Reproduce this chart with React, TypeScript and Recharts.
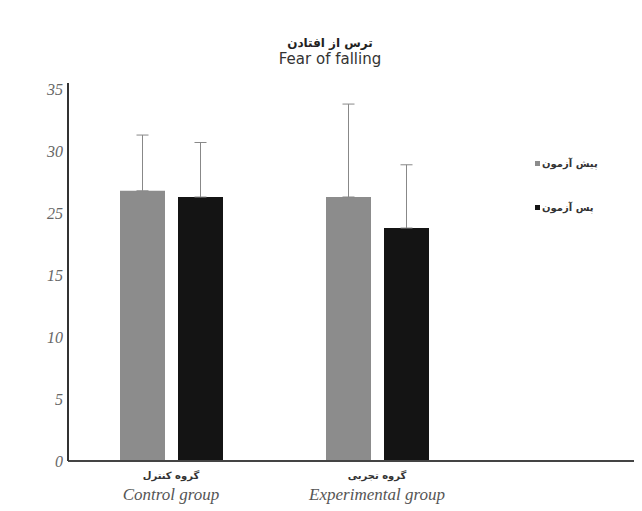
import React from 'react';
import { BarChart, Bar, XAxis, YAxis, ErrorBar, Legend } from 'recharts';

// Groups on the x axis
const groups = ['Control group', 'Experimental group'];
const groupsFa = ['گروه کنترل', 'گروه تجربی'];

// Mean scores and upper error (SD) for each test
const preTest = [21.8, 21.3];
const postTest = [21.3, 18.8];
const preErr = [4.5, 7.5];
const postErr = [4.4, 5.1];

// Y axis ticks and the labels printed next to them
const yTicks = [0, 5, 10, 15, 20, 25, 30];
const yTickLabels = ['0', '5', '10', '15', '25', '30', '35'];

const seriesNames = ['پیش آزمون', 'پس آزمون'];
const seriesColors = ['#8c8c8c', '#141414'];

const data = groups.map((g, i) => ({
	group: g,
	pre: preTest[i],
	post: postTest[i],
	preErr: [0, preErr[i]],
	postErr: [0, postErr[i]],
}));

const GroupTick = (props: any) => {
	const { x, y, payload, index } = props;
	return (
		<g>
			<text
				x={x}
				y={y}
				dy={10}
				textAnchor='middle'
				fontFamily='DejaVu Sans'
				fontWeight='bold'
				fontSize={10}
				fill='#333'>
				{groupsFa[index]}
			</text>
			<text
				x={x}
				y={y}
				dy={31}
				textAnchor='middle'
				fontFamily='Liberation Serif'
				fontStyle='italic'
				fontSize={17}
				fill='#555'>
				{payload.value}
			</text>
		</g>
	);
};

const LegendContent = () => (
	<div style={{ fontFamily: 'DejaVu Sans', fontSize: 10, fontWeight: 'bold', color: '#333' }}>
		{seriesNames.map((name, i) => (
			<div
				key={name}
				style={{ display: 'flex', alignItems: 'center', height: 16, marginBottom: i === 0 ? 28 : 0 }}>
				<span
					style={{
						width: 5,
						height: 5,
						background: seriesColors[i],
						marginRight: 2,
						display: 'inline-block',
					}}
				/>
				<span dir='rtl'>{name}</span>
			</div>
		))}
	</div>
);

const App = () => {
	return (
		<div style={{ position: 'relative', width: 634, height: 503 }}>
			<div
				style={{
					position: 'absolute',
					left: 0,
					width: 644,
					top: 27,
					textAlign: 'center',
					lineHeight: '16px',
				}}>
				<div dir='rtl' style={{ fontFamily: 'DejaVu Sans', fontWeight: 'bold', fontSize: 12, color: '#222' }}>
					ترس از افتادن
				</div>
				<div style={{ fontFamily: 'DejaVu Sans', fontSize: 15, color: '#333' }}>Fear of falling</div>
			</div>
			<BarChart
				width={634}
				height={503}
				data={data}
				margin={{ top: 75, right: 0, bottom: 0, left: 0 }}
				barSize={45}
				barGap={13}>
				<XAxis
					dataKey='group'
					height={50}
					padding={{ left: 0, right: 162 }}
					axisLine={{ stroke: '#444', strokeWidth: 2 }}
					tickLine={false}
					tick={<GroupTick />}
					interval={0}
				/>
				<YAxis
					width={60}
					domain={[0, 30.5]}
					ticks={yTicks}
					tickFormatter={(v: number) => yTickLabels[yTicks.indexOf(v)]}
					axisLine={{ stroke: '#333', strokeWidth: 2 }}
					tickLine={false}
					tickSize={0}
					tickMargin={5}
					tick={{ fontFamily: 'Liberation Serif', fontStyle: 'italic', fontSize: 16, fill: '#666' }}
				/>
				<Legend
					layout='vertical'
					align='center'
					verticalAlign='middle'
					content={<LegendContent />}
					wrapperStyle={{ top: 147, left: 527, width: 100 }}
				/>
				<Bar dataKey='pre' name={seriesNames[0]} fill={seriesColors[0]} isAnimationActive={false}>
					<ErrorBar dataKey='preErr' direction='y' width={6} stroke='#888' strokeWidth={1} />
				</Bar>
				<Bar dataKey='post' name={seriesNames[1]} fill={seriesColors[1]} isAnimationActive={false}>
					<ErrorBar dataKey='postErr' direction='y' width={6} stroke='#888' strokeWidth={1} />
				</Bar>
			</BarChart>
		</div>
	);
};

export default App;
